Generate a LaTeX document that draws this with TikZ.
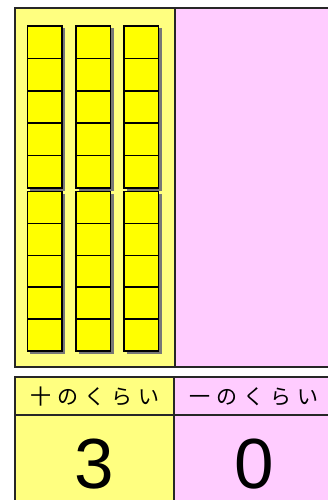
\documentclass[tikz,border=0pt]{standalone}
\usepackage{fontspec}
\newfontfamily\jp{Noto Sans CJK JP}
\setmainfont{Liberation Sans}
\definecolor{paleyellow}{HTML}{FFFF80}
\definecolor{rodyellow}{HTML}{FFFF00}
\definecolor{palepink}{HTML}{FFCCFF}
\definecolor{shadowgray}{HTML}{777777}
\tikzset{
  panel/.style={draw=black!85, line width=1.6pt},
  unitsq/.style={draw=black, line width=1.6pt, fill=rodyellow},
  shade/.style={fill=shadowgray, draw=none},
  headtxt/.style={inner sep=0pt, font=\fontsize{21}{21}\selectfont\jp},
  digit/.style={inner sep=0pt, anchor=base, text height=51pt, text depth=0pt, font=\fontsize{71}{71}\selectfont},
}
\newcommand{\spaced}[5]{#1\kern6pt#2\kern6pt#3\kern6pt#4\kern6pt#5}
\begin{document}
\begin{tikzpicture}[x=1pt,y=-1pt]
\useasboundingbox (0,0) rectangle (328,500);
\fill[white] (0,0) rectangle (328,500);
% top panel
\fill[paleyellow] (15,8) rectangle (175,367);
\fill[palepink] (175,8) rectangle (332,367);
\draw[panel] (332,8) -- (15,8) -- (15,367) -- (332,367);
\draw[panel] (175,8) -- (175,367);
% rods
\foreach \xl in {27.3,76,124}{
  % upper group
  \fill[shade] (\xl+2.5,28.5) rectangle (\xl+37.5,190.5);
  \foreach \i in {0,...,4}{
    \draw[unitsq] (\xl,26+32.4*\i) rectangle (\xl+34.5,26+32.4*\i+32.4);
  }
  % lower group
  \fill[shade] (\xl+2.5,194) rectangle (\xl+37.5,353.5);
  \foreach \i in {0,...,4}{
    \draw[unitsq] (\xl,191.5+31.9*\i) rectangle (\xl+34.5,191.5+31.9*\i+31.9);
  }
}
% bottom table
\fill[paleyellow] (15,377) rectangle (174,502);
\fill[palepink] (174,377) rectangle (332,502);
\draw[panel] (332,377) -- (15,377) -- (15,502);
\draw[panel] (174,377) -- (174,502);
\draw[panel] (15,415) -- (332,415);
\node[headtxt] (tenhead) at (95,396.5) {\spaced{十}{の}{く}{ら}{い}};
\node[headtxt] (onehead) at (254,396.5) {\spaced{一}{の}{く}{ら}{い}};
\node[digit] (tens) at (94,488) {3};
\node[digit] (ones) at (254,488) {0};
\end{tikzpicture}
\end{document}
